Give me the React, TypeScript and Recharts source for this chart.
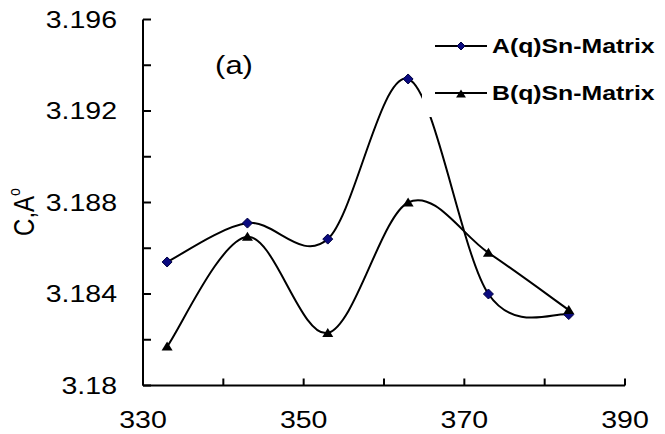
import React from 'react';
import { LineChart, Line, XAxis, YAxis, Customized } from 'recharts';

// Temperature (K) for each measurement
const X_VALUES = [333, 343, 353, 363, 373, 383];
// Lattice parameter c (Å)
const SERIES_A = [3.1854, 3.1871, 3.1864, 3.1934, 3.184, 3.1831];
const SERIES_B = [3.1817, 3.1865, 3.1823, 3.188, 3.1858, 3.1833];

const SERIES_A_NAME = 'A(q)Sn-Matrix';
const SERIES_B_NAME = 'B(q)Sn-Matrix';

const X_TICKS = [330, 340, 350, 360, 370, 380, 390];
const X_LABELED = [330, 350, 370, 390];
const Y_TICKS = [3.18, 3.182, 3.184, 3.186, 3.188, 3.19, 3.192, 3.194, 3.196];
const Y_LABELED = [3.18, 3.184, 3.188, 3.192, 3.196];

const PANEL_LABEL = '(a)';

const data = X_VALUES.map((x, i) => ({ x, a: SERIES_A[i], b: SERIES_B[i] }));

const FONT = '"Liberation Sans", Arial, sans-serif';
const STRETCH = 1.24;
const NAVY = '#0a0a80';

// Smooth cubic curve through every point (Catmull-Rom style tangents)
function smoothCurve(context: any) {
  let pts: number[][] = [];
  return {
    areaStart() {},
    areaEnd() {},
    lineStart() {
      pts = [];
    },
    point(x: number, y: number) {
      pts.push([+x, +y]);
    },
    lineEnd() {
      if (!pts.length) return;
      context.moveTo(pts[0][0], pts[0][1]);
      const k = 1 / 6;
      for (let i = 0; i < pts.length - 1; i++) {
        const p0 = pts[i - 1] || pts[i];
        const p1 = pts[i];
        const p2 = pts[i + 1];
        const p3 = pts[i + 2] || p2;
        context.bezierCurveTo(
          p1[0] + (p2[0] - p0[0]) * k,
          p1[1] + (p2[1] - p0[1]) * k,
          p2[0] - (p3[0] - p1[0]) * k,
          p2[1] - (p3[1] - p1[1]) * k,
          p2[0],
          p2[1]
        );
      }
    },
  };
}

const isIn = (list: number[], v: number) => list.some((l) => Math.abs(l - v) < 1e-9);

const YTick = (props: any) => {
  const { x, y, payload } = props;
  if (!isIn(Y_LABELED, payload.value)) return <g />;
  const label = String(Number(payload.value.toFixed(3)));
  return (
    <g transform={`translate(${x},${y}) scale(${STRETCH},1)`}>
      <text x={0} y={0} dy="0.36em" textAnchor="end" fontFamily={FONT} fontSize={23} fill="#000">
        {label}
      </text>
    </g>
  );
};

const XTick = (props: any) => {
  const { x, y, payload } = props;
  if (!isIn(X_LABELED, payload.value)) return <g />;
  return (
    <g transform={`translate(${x},${y}) scale(${STRETCH},1)`}>
      <text x={0} y={0} dy="0.72em" textAnchor="middle" fontFamily={FONT} fontSize={23} fill="#000">
        {payload.value}
      </text>
    </g>
  );
};

const Diamond = ({ cx, cy, r }: { cx: number; cy: number; r: number }) => (
  <polygon
    points={`${cx},${cy - r} ${cx + r},${cy} ${cx},${cy + r} ${cx - r},${cy}`}
    fill={NAVY}
    stroke="#000040"
    strokeWidth={1}
  />
);

const Triangle = ({ cx, cy, r }: { cx: number; cy: number; r: number }) => (
  <polygon
    points={`${cx},${cy - r} ${cx + r * 1.1},${cy + r * 0.8} ${cx - r * 1.1},${cy + r * 0.8}`}
    fill="#000"
  />
);

const renderDiamondDot = (props: any) => (
  <Diamond key={`a-${props.index}`} cx={props.cx} cy={props.cy} r={5} />
);
const renderTriangleDot = (props: any) => (
  <Triangle key={`b-${props.index}`} cx={props.cx} cy={props.cy} r={5} />
);

const LegendRow = ({ name, kind }: { name: string; kind: 'a' | 'b' }) => (
  <div style={{ display: 'flex', alignItems: 'center', height: 47 }}>
    <svg width={52} height={14} style={{ display: 'block' }}>
      <line x1={0} y1={7} x2={52} y2={7} stroke="#000" strokeWidth={2} />
      {kind === 'a' ? <Diamond cx={26} cy={7} r={4} /> : <Triangle cx={26} cy={8} r={4.5} />}
    </svg>
    <span
      style={{
        marginLeft: 5,
        fontFamily: FONT,
        fontWeight: 'bold',
        fontSize: 20,
        display: 'inline-block',
        transform: `scaleX(${STRETCH})`,
        transformOrigin: '0 50%',
        whiteSpace: 'nowrap',
        lineHeight: '20px',
      }}
    >
      {name}
    </span>
  </div>
);

const PanelLabel = () => (
  <g transform={`translate(234,74) scale(${STRETCH},1)`}>
    <text x={0} y={0} textAnchor="middle" fontFamily={FONT} fontSize={25} fill="#000">
      {PANEL_LABEL}
    </text>
  </g>
);

const YTitle = () => (
  <g transform={`translate(34,212) scale(${STRETCH},1) rotate(-90)`}>
    <text x={0} y={0} textAnchor="middle" fontFamily={FONT} fontSize={24} fill="#000">
      C,A
      <tspan dy={-11} fontSize={14}>
        o
      </tspan>
    </text>
  </g>
);

export default function App() {
  return (
    <div style={{ position: 'absolute', left: 0, top: 0, width: 665, height: 434, background: '#fff' }}>
      <LineChart
        width={665}
        height={434}
        data={data}
        margin={{ top: 19.5, right: 40, bottom: 18.5, left: 0 }}
      >
        <XAxis
          dataKey="x"
          type="number"
          domain={[330, 390]}
          ticks={X_TICKS}
          interval={0}
          height={30}
          axisLine={{ stroke: '#000', strokeWidth: 2 }}
          tickLine={{ stroke: '#000', strokeWidth: 2 }}
          tickSize={-7}
          tickMargin={33}
          tick={<XTick />}
        />
        <YAxis
          type="number"
          domain={[3.18, 3.196]}
          ticks={Y_TICKS}
          interval={0}
          width={143}
          allowDataOverflow
          axisLine={{ stroke: '#000', strokeWidth: 2 }}
          tickLine={{ stroke: '#000', strokeWidth: 2 }}
          tickSize={-8}
          tickMargin={34}
          tick={<YTick />}
        />
        <Line
          dataKey="a"
          name={SERIES_A_NAME}
          type={smoothCurve as any}
          stroke="#000"
          strokeWidth={2}
          dot={renderDiamondDot}
          activeDot={false}
          isAnimationActive={false}
        />
        <Line
          dataKey="b"
          name={SERIES_B_NAME}
          type={smoothCurve as any}
          stroke="#000"
          strokeWidth={2}
          dot={renderTriangleDot}
          activeDot={false}
          isAnimationActive={false}
        />
        <Customized component={PanelLabel} />
        <Customized component={YTitle} />
      </LineChart>
      {/* legend box sits over the plot with an opaque background */}
      <div
        style={{
          position: 'absolute',
          left: 422,
          top: 22,
          width: 238,
          height: 95,
          background: '#fff',
          paddingLeft: 13,
          boxSizing: 'border-box',
        }}
      >
        <LegendRow name={SERIES_A_NAME} kind="a" />
        <LegendRow name={SERIES_B_NAME} kind="b" />
      </div>
    </div>
  );
}
